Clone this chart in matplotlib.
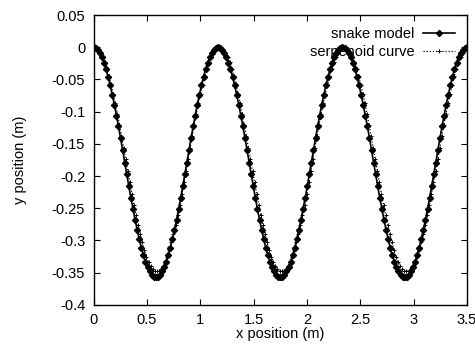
import numpy as np
import matplotlib
matplotlib.use("Agg")
import matplotlib.pyplot as plt

plt.rcParams['font.family'] = ['Liberation Sans', 'DejaVu Sans']

# snake model y positions (m), sampled along x from 0 to 3.5 m
snake_y = [
    0, -0.001, -0.004, -0.009, -0.015, -0.024, -0.034, -0.046, -0.059, -0.074, -0.089, -0.106, -0.123, -0.141, -0.160,
    -0.179, -0.197, -0.216, -0.234, -0.251, -0.268, -0.283, -0.298, -0.311, -0.323, -0.333, -0.342, -0.348, -0.353, -0.356, -0.357,
    -0.356, -0.353, -0.348, -0.342, -0.333, -0.323, -0.311, -0.298, -0.283, -0.268, -0.251, -0.234, -0.216, -0.197, -0.179,
    -0.160, -0.141, -0.123, -0.106, -0.089, -0.074, -0.059, -0.046, -0.034, -0.024, -0.015, -0.009, -0.004, -0.001, 0,
    -0.001, -0.004, -0.009, -0.015, -0.024, -0.034, -0.046, -0.059, -0.074, -0.089, -0.106, -0.123, -0.141, -0.160,
    -0.179, -0.197, -0.216, -0.234, -0.251, -0.268, -0.283, -0.298, -0.311, -0.323, -0.333, -0.342, -0.348, -0.353, -0.356, -0.357,
    -0.356, -0.353, -0.348, -0.342, -0.333, -0.323, -0.311, -0.298, -0.283, -0.268, -0.251, -0.234, -0.216, -0.197, -0.179,
    -0.160, -0.141, -0.123, -0.106, -0.089, -0.074, -0.059, -0.046, -0.034, -0.024, -0.015, -0.009, -0.004, -0.001, 0,
    -0.001, -0.004, -0.009, -0.015, -0.024, -0.034, -0.046, -0.059, -0.074, -0.089, -0.106, -0.123, -0.141, -0.160,
    -0.179, -0.197, -0.216, -0.234, -0.251, -0.268, -0.283, -0.298, -0.311, -0.323, -0.333, -0.342, -0.348, -0.353, -0.356, -0.357,
    -0.356, -0.353, -0.348, -0.342, -0.333, -0.323, -0.311, -0.298, -0.283, -0.268, -0.251, -0.234, -0.216, -0.197, -0.179,
    -0.160, -0.141, -0.123, -0.106, -0.089, -0.074, -0.059, -0.046, -0.034, -0.024, -0.015, -0.009, -0.004, -0.001, 0,
]

# serpenoid curve y positions (m)
serp_y = [
    0, -0.001, -0.004, -0.009, -0.015, -0.023, -0.033, -0.045, -0.058, -0.072, -0.087, -0.103, -0.120, -0.138, -0.156,
    -0.174, -0.192, -0.210, -0.228, -0.245, -0.261, -0.276, -0.290, -0.303, -0.315, -0.325, -0.333, -0.340, -0.344, -0.347, -0.348,
    -0.347, -0.344, -0.340, -0.333, -0.325, -0.315, -0.303, -0.290, -0.276, -0.261, -0.245, -0.228, -0.210, -0.192, -0.174,
    -0.156, -0.138, -0.120, -0.103, -0.087, -0.072, -0.058, -0.045, -0.033, -0.023, -0.015, -0.009, -0.004, -0.001, 0,
    -0.001, -0.004, -0.009, -0.015, -0.023, -0.033, -0.045, -0.058, -0.072, -0.087, -0.103, -0.120, -0.138, -0.156,
    -0.174, -0.192, -0.210, -0.228, -0.245, -0.261, -0.276, -0.290, -0.303, -0.315, -0.325, -0.333, -0.340, -0.344, -0.347, -0.348,
    -0.347, -0.344, -0.340, -0.333, -0.325, -0.315, -0.303, -0.290, -0.276, -0.261, -0.245, -0.228, -0.210, -0.192, -0.174,
    -0.156, -0.138, -0.120, -0.103, -0.087, -0.072, -0.058, -0.045, -0.033, -0.023, -0.015, -0.009, -0.004, -0.001, 0,
    -0.001, -0.004, -0.009, -0.015, -0.023, -0.033, -0.045, -0.058, -0.072, -0.087, -0.103, -0.120, -0.138, -0.156,
    -0.174, -0.192, -0.210, -0.228, -0.245, -0.261, -0.276, -0.290, -0.303, -0.315, -0.325, -0.333, -0.340, -0.344, -0.347, -0.348,
    -0.347, -0.344, -0.340, -0.333, -0.325, -0.315, -0.303, -0.290, -0.276, -0.261, -0.245, -0.228, -0.210, -0.192, -0.174,
    -0.156, -0.138, -0.120, -0.103, -0.087, -0.072, -0.058, -0.045, -0.033, -0.023, -0.015, -0.009, -0.004, -0.001, 0,
]

snake_x_range = (0.0, 3.5)
serp_x_range = (0.008, 3.518)

x_ticks = [0, 0.5, 1, 1.5, 2, 2.5, 3, 3.5]
x_tick_labels = ['0', '0.5', '1', '1.5', '2', '2.5', '3', '3.5']
y_ticks = [-0.4, -0.35, -0.3, -0.25, -0.2, -0.15, -0.1, -0.05, 0, 0.05]
y_tick_labels = ['-0.4', '-0.35', '-0.3', '-0.25', '-0.2', '-0.15', '-0.1', '-0.05', '0', '0.05']

snake_x = np.linspace(snake_x_range[0], snake_x_range[1], len(snake_y))
serp_x = np.linspace(serp_x_range[0], serp_x_range[1], len(serp_y))

fig = plt.figure(figsize=(4.75, 3.5), dpi=100)
ax = fig.add_axes([0.197, 0.129, 0.786, 0.828])

ax.plot(snake_x, snake_y, color='black', lw=1.2, marker='D', ms=3.2,
        markeredgewidth=0.9, label='snake model', zorder=3)
ax.plot(serp_x, serp_y, color='black', lw=0.9, ls=(0, (1, 1.5)), marker='+', ms=3.5,
        markeredgewidth=0.7, label='serpenoid curve', zorder=2)

ax.set_xlim(0, 3.5)
ax.set_ylim(-0.4, 0.05)
ax.set_xticks(x_ticks)
ax.set_xticklabels(x_tick_labels)
ax.set_yticks(y_ticks)
ax.set_yticklabels(y_tick_labels)
ax.tick_params(direction='in', length=4, width=0.8, top=True, right=True,
               labelsize=10.5, pad=6)
for s in ax.spines.values():
    s.set_linewidth(1.0)

ax.set_xlabel('x position (m)', fontsize=10.5, labelpad=0)
ax.set_ylabel('y position (m)', fontsize=10.5, labelpad=18)

ax.legend(loc='upper right', frameon=False, markerfirst=False, fontsize=10.5,
          handlelength=2.2, handletextpad=0.6, labelspacing=0.3,
          borderaxespad=0.6, borderpad=0.2)

fig.savefig('out.png', dpi=100)
